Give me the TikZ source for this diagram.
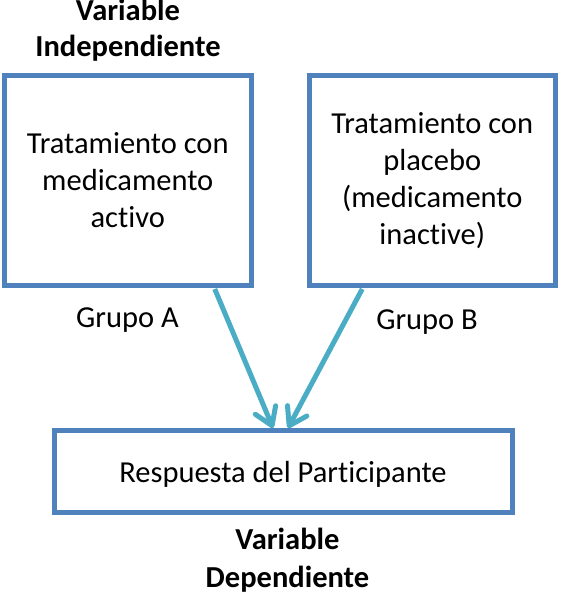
\documentclass[tikz,border=0pt]{standalone}
\usepackage{fontspec}
\setmainfont{Carlito}[Ligatures=NoCommon]
\usetikzlibrary{arrows.meta,calc}
\definecolor{boxblue}{HTML}{4F81BD}
\definecolor{arrowcyan}{HTML}{4BACC6}
\begin{document}
\begin{tikzpicture}[x=1pt,y=-1pt,
  txt/.style={font=\fontsize{30.5}{37}\selectfont, align=center, inner sep=0pt},
  lbl/.style={font=\fontsize{30.5}{36}\selectfont\bfseries, align=center, inner sep=0pt, anchor=base},
  grp/.style={font=\fontsize{30.5}{36}\selectfont, inner sep=0pt, anchor=base},
  boxnode/.style={draw=boxblue, line width=5pt, fill=white, txt},
  conn/.style={draw=arrowcyan, line width=5pt, -{Straight Barb[length=17pt,width=22pt,round]}}
]
\useasboundingbox (0,0) rectangle (560,593);
\node[lbl] (tv) at (128,57) {Variable\\Independiente};
\node[boxnode, minimum width=246.5pt, minimum height=210pt] (b1) at (127.75,180.5)
  {Tratamiento con\\medicamento\\activo};
\node[boxnode, minimum width=246.5pt, minimum height=210pt] (b2) at (432.25,180.5)
  {Tratamiento con\\placebo\\(medicamento\\inactive)};
\node[grp] (ga) at (127.5,327) {Grupo A};
\node[grp] (gb) at (427,329) {Grupo B};
\node[boxnode, text depth=0pt, minimum width=458pt, minimum height=82pt] (c) at (283,471.5)
  {Respuesta del Participante};
\node[lbl, font=\fontsize{30.5}{38}\selectfont\bfseries] (dv) at (287.5,587) {Variable\\Dependiente};
\draw[conn] ([xshift=87pt,yshift=-1pt]b1.south) -- ([xshift=-10pt]c.north);
\draw[conn] ([xshift=-70pt,yshift=-1pt]b2.south) -- ([xshift=5pt]c.north);
\end{tikzpicture}
\end{document}
